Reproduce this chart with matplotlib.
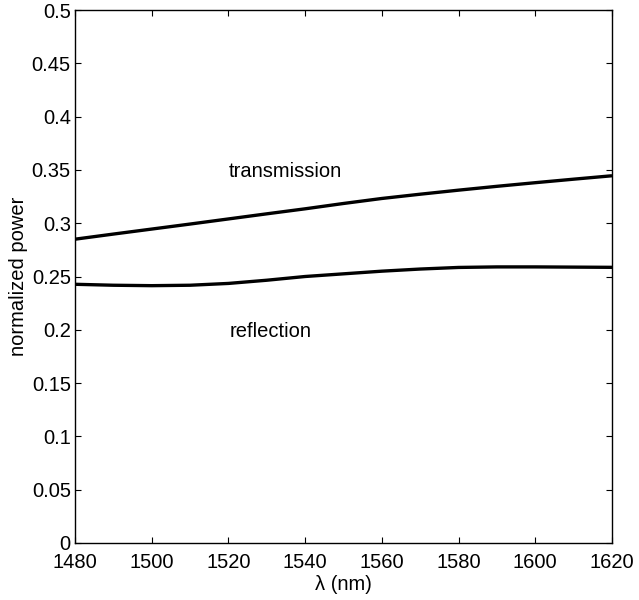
import matplotlib
matplotlib.use("Agg")
import matplotlib.pyplot as plt

plt.rcParams['font.family'] = ['Liberation Sans', 'DejaVu Sans']

wavelength = [1480, 1490, 1500, 1510, 1520, 1530, 1540, 1550, 1560, 1570, 1580, 1590, 1600, 1610, 1620]
transmission = [0.285, 0.2898, 0.2945, 0.2992, 0.304, 0.3088, 0.3135, 0.3185, 0.3232, 0.3272, 0.331, 0.3346, 0.338, 0.3413, 0.3445]
reflection = [0.2427, 0.2418, 0.2414, 0.2418, 0.2435, 0.2465, 0.2500, 0.2525, 0.2550, 0.2570, 0.2585, 0.2590, 0.2590, 0.2588, 0.2586]

xticks = [1480, 1500, 1520, 1540, 1560, 1580, 1600, 1620]
yticks = [0, 0.05, 0.1, 0.15, 0.2, 0.25, 0.3, 0.35, 0.4, 0.45, 0.5]
ytick_labels = ['0', '0.05', '0.1', '0.15', '0.2', '0.25', '0.3', '0.35', '0.4', '0.45', '0.5']

fig = plt.figure(figsize=(6.39, 6.0), dpi=100)
ax = fig.add_axes([75 / 639, 57 / 600, 537 / 639, 533 / 600])

ax.plot(wavelength, transmission, color='black', lw=2.4, solid_capstyle='butt')
ax.plot(wavelength, reflection, color='black', lw=2.4, solid_capstyle='butt')

ax.text(1520.2, 0.3433, 'transmission', fontsize=14.5, va='baseline', ha='left')
ax.text(1520.2, 0.1933, 'reflection', fontsize=14.5, va='baseline', ha='left')

ax.set_xlim(1480, 1620)
ax.set_ylim(0, 0.5)
ax.set_xticks(xticks)
ax.set_yticks(yticks)
ax.set_yticklabels(ytick_labels)
ax.tick_params(direction='in', top=True, right=True, labelsize=14.5, length=4, width=0.8)
ax.tick_params(axis='y', pad=3)
ax.tick_params(axis='x', pad=7)
for s in ax.spines.values():
    s.set_linewidth(1.0)

ax.set_xlabel('λ (nm)', fontsize=14.5, labelpad=2)
ax.set_ylabel('normalized power', fontsize=14.5, labelpad=3)

fig.savefig('out.png', dpi=100)
